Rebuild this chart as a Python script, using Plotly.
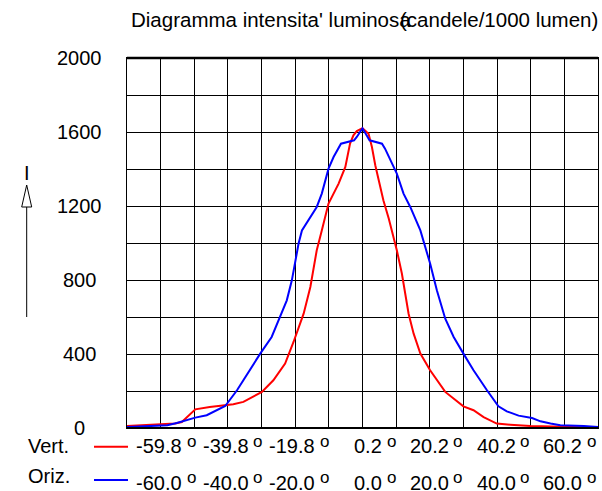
import plotly.graph_objects as go

# ---- data ----
oriz_angle = [-70, -63, -58, -55.2, -52.2, -49.7, -46.3, -43.8, -40.8, -37.3, -33.9, -30.4,
              -27, -24.5, -22.5, -21, -19, -18, -13.6, -12.1, -10.1, -8.6, -6.4, -2.5, -1.7,
              0, 2.1, 5.8, 6.7, 10.2, 12.2, 14.2, 17.2, 20.1, 22.1, 24.6, 27.1, 30, 33, 37,
              40.4, 42.9, 46.4, 50.4, 52.9, 55.9, 58.8, 65.8, 70]
oriz_val = [5, 9, 15, 27, 45, 56, 69, 90, 119, 204, 303, 402,
            492, 600, 690, 798, 997, 1068, 1195, 1267, 1402, 1465, 1537, 1555, 1573,
            1620, 1555, 1537, 1510, 1375, 1267, 1195, 1068, 889, 744, 591, 492, 402, 312, 204,
            117, 90, 67, 54, 36, 24, 15, 11, 5]

vert_angle = [-70, -66, -60, -55.7, -53.7, -51.2, -49.7, -45.4, -41.4, -38.4, -35.4, -32.4,
              -29.9, -26.5, -23, -20.5, -17.5, -15.5, -13.6, -12.1, -10.1, -7.1, -5.1, -3.7,
              -2.7, -1.7, 0, 1.8, 2.8, 3.8, 5.1, 6.2, 7.8, 8.7, 10.2, 11.7, 13.7, 15.2, 17.2,
              20.1, 24.6, 30, 33, 36, 39.9, 43.9, 49.9, 59.8, 70]
vert_val = [11, 15, 18, 24, 32, 78, 101, 114, 123, 128, 141, 168,
            195, 258, 348, 465, 618, 762, 961, 1068, 1213, 1321, 1411, 1537,
            1582, 1605, 1620, 1591, 1519, 1420, 1321, 1231, 1132, 1068, 961, 835, 618, 510, 402,
            312, 195, 117, 96, 59, 24, 18, 11, 7, 2]

y_ticks = [0, 400, 800, 1200, 1600, 2000]
vert_labels = ["-59.8", "-39.8", "-19.8", "0.2", "20.2", "40.2", "60.2"]
oriz_labels = ["-60.0", "-40.0", "-20.0", "0.0", "20.0", "40.0", "60.0"]
degree_mark = "o"
title_main = "Diagramma intensita' luminosa"
title_unit = "(candele/1000 lumen)"
legend_names = ["Vert.", "Oriz."]
axis_label = "I"

RED = "#ff0000"
BLUE = "#0000ff"
FONT = "Arial, Liberation Sans, sans-serif"
FS = 20

W, H = 602, 491
ML, MR, MT, MB = 127, 4, 58, 63
PW, PH = W - ML - MR, H - MT - MB


def px(x):
    return (x - ML) / PW


def py(y):
    return (H - MB - y) / PH


def font(size=FS):
    return dict(size=size, color="black", family=FONT)


fig = go.Figure()
fig.add_trace(go.Scatter(x=vert_angle, y=vert_val, mode="lines",
                         line=dict(color=RED, width=2), name=legend_names[0],
                         showlegend=False, hoverinfo="skip"))
fig.add_trace(go.Scatter(x=oriz_angle, y=oriz_val, mode="lines",
                         line=dict(color=BLUE, width=2), name=legend_names[1],
                         showlegend=False, hoverinfo="skip"))

ann = []
shapes = []

# y tick labels
for v in y_ticks:
    ann.append(dict(x=px(79), xref="paper", y=v, yref="y", text=str(v),
                    showarrow=False, xanchor="center", yanchor="middle", font=font()))

# title (two overlapping pieces, as in the original)
ann.append(dict(x=px(128.5), xref="paper", y=py(20), yref="paper", text=title_main,
                showarrow=False, xanchor="left", yanchor="middle", font=font(20.5)))
ann.append(dict(x=px(398), xref="paper", y=py(20), yref="paper", text=title_unit,
                showarrow=False, xanchor="left", yanchor="middle", font=font(20.5)))

# bottom label rows: number + raised "o"
rows = [(vert_labels, 445.5, 441), (oriz_labels, 482.5, 477.5)]
for labels, yc, yo in rows:
    for i, lab in enumerate(labels):
        xr = 597.3 - 66.7 * (len(labels) - 1 - i)
        ann.append(dict(x=px(xr - 13), xref="paper", y=py(yc), yref="paper",
                        text=lab, showarrow=False, xanchor="right", yanchor="middle",
                        font=font()))
        ann.append(dict(x=px(xr + 0.5), xref="paper", y=py(yo), yref="paper",
                        text=degree_mark, showarrow=False, xanchor="right", yanchor="middle",
                        font=font(17)))

# legend-like names and line samples
for (name, yc, ly, col) in [(legend_names[0], 446, 446.7, RED), (legend_names[1], 476.5, 480, BLUE)]:
    ann.append(dict(x=px(26), xref="paper", y=py(yc), yref="paper", text=name,
                    showarrow=False, xanchor="left", yanchor="middle", font=font()))
    shapes.append(dict(type="line", xref="paper", yref="paper",
                       x0=px(94), x1=px(128), y0=py(ly), y1=py(ly),
                       line=dict(color=col, width=2)))

# axis label "I" with open arrow
ann.append(dict(x=px(26.7), xref="paper", y=py(172.5), yref="paper", text=axis_label,
                showarrow=False, xanchor="center", yanchor="middle", font=font()))
shapes.append(dict(type="line", xref="paper", yref="paper",
                   x0=px(26.7), x1=px(26.7), y0=py(207), y1=py(317),
                   line=dict(color="black", width=1)))
shapes.append(dict(type="path", xref="paper", yref="paper",
                   path=f"M {px(26.7)} {py(185)} L {px(21.7)} {py(207)} L {px(31.7)} {py(207)} Z",
                   fillcolor="white", line=dict(color="black", width=1)))

# thick top and bottom frame lines
shapes.append(dict(type="line", xref="paper", yref="paper", x0=0, x1=1, y0=1, y1=1,
                   line=dict(color="black", width=2.5), layer="above"))
shapes.append(dict(type="line", xref="paper", yref="paper", x0=0, x1=1, y0=0, y1=0,
                   line=dict(color="black", width=2), layer="above"))

fig.update_layout(
    width=W, height=H,
    margin=dict(l=ML, r=MR, t=MT, b=MB, pad=0),
    paper_bgcolor="white", plot_bgcolor="white",
    showlegend=False,
    annotations=ann, shapes=shapes,
    xaxis=dict(range=[-70, 70], dtick=10, tick0=0, showgrid=True, gridcolor="black",
               gridwidth=1, showticklabels=False, ticks="", zeroline=False,
               showline=True, linecolor="black", linewidth=1, mirror=True, fixedrange=True),
    yaxis=dict(range=[0, 2000], dtick=200, tick0=0, showgrid=True, gridcolor="black",
               gridwidth=1, showticklabels=False, ticks="", zeroline=False,
               showline=True, linecolor="black", linewidth=1, mirror=True, fixedrange=True),
)

fig.write_html("out.html", config={"displayModeBar": False})
